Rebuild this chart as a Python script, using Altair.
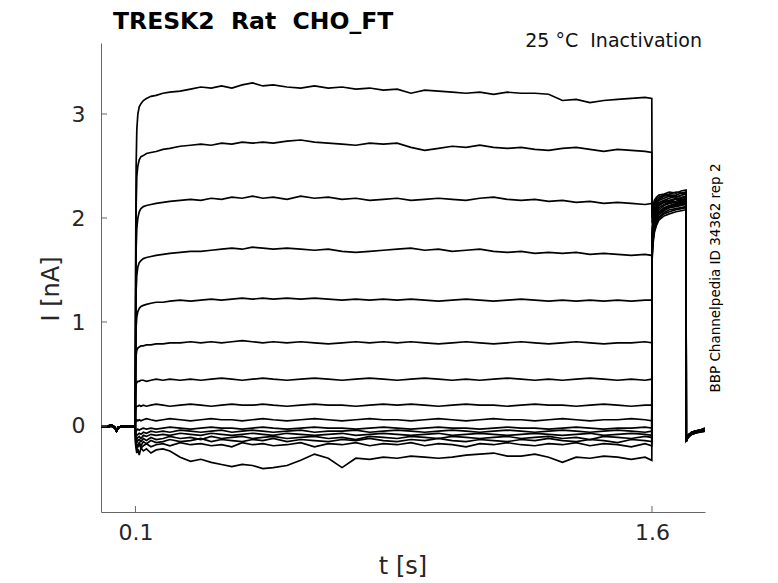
import altair as alt
import pandas as pd

# ---------------- data ----------------
T_BASE = [0.0, 0.01, 0.02, 0.03, 0.04, 0.045, 0.05, 0.06, 0.07, 0.08, 0.09, 0.0995]
BASE_A = [0.0, -0.01, 0.0, 0.01, -0.01, -0.05, -0.02, 0.0, -0.01, 0.0, -0.01, 0.0]
BASE_B = [-0.01, 0.0, -0.01, 0.0, -0.02, -0.04, -0.01, -0.01, 0.0, -0.01, 0.0, -0.01]

T_STEP = [0.1005, 0.102, 0.104, 0.107, 0.111, 0.116, 0.123, 0.132, 0.145, 0.16,
          0.18, 0.2, 0.23, 0.26, 0.29, 0.32, 0.35, 0.38, 0.41, 0.44,
          0.47, 0.5, 0.54, 0.58, 0.62, 0.66, 0.7, 0.74, 0.78, 0.82,
          0.86, 0.9, 0.94, 0.98, 1.02, 1.06, 1.1, 1.14, 1.18, 1.22,
          1.26, 1.3, 1.34, 1.38, 1.42, 1.46, 1.5, 1.54, 1.58, 1.5995]

STEP = [
    [1.5, 2.5, 2.85, 3.0, 3.07, 3.1, 3.13, 3.15, 3.17, 3.18,
     3.2, 3.21, 3.22, 3.24, 3.26, 3.25, 3.27, 3.25, 3.28, 3.30,
     3.27, 3.28, 3.26, 3.25, 3.27, 3.25, 3.26, 3.24, 3.25, 3.23,
     3.24, 3.20, 3.23, 3.22, 3.21, 3.20, 3.21, 3.19, 3.21, 3.20,
     3.20, 3.19, 3.13, 3.14, 3.11, 3.13, 3.14, 3.15, 3.16, 3.15],
    [1.2, 2.1, 2.4, 2.5, 2.56, 2.59, 2.60, 2.62, 2.63, 2.64,
     2.66, 2.67, 2.69, 2.70, 2.71, 2.70, 2.72, 2.71, 2.73, 2.72,
     2.73, 2.72, 2.74, 2.75, 2.73, 2.72, 2.71, 2.70, 2.72, 2.71,
     2.72, 2.68, 2.65, 2.67, 2.69, 2.68, 2.70, 2.68, 2.67, 2.68,
     2.66, 2.65, 2.67, 2.68, 2.66, 2.64, 2.66, 2.65, 2.64, 2.63],
    [1.0, 1.7, 1.9, 2.0, 2.06, 2.09, 2.11, 2.12, 2.13, 2.14,
     2.15, 2.16, 2.17, 2.18, 2.17, 2.19, 2.18, 2.20, 2.19, 2.21,
     2.19, 2.20, 2.18, 2.21, 2.19, 2.20, 2.18, 2.19, 2.17, 2.18,
     2.19, 2.17, 2.18, 2.19, 2.18, 2.17, 2.19, 2.20, 2.18, 2.17,
     2.18, 2.16, 2.17, 2.15, 2.16, 2.14, 2.15, 2.14, 2.13, 2.14],
    [0.8, 1.3, 1.45, 1.53, 1.57, 1.59, 1.61, 1.62, 1.63, 1.64,
     1.65, 1.66, 1.67, 1.68, 1.68, 1.69, 1.70, 1.71, 1.70, 1.72,
     1.71, 1.70, 1.71, 1.70, 1.69, 1.70, 1.68, 1.67, 1.68, 1.69,
     1.70, 1.71, 1.69, 1.70, 1.68, 1.69, 1.70, 1.68, 1.67, 1.68,
     1.66, 1.67, 1.66, 1.67, 1.65, 1.66, 1.65, 1.64, 1.65, 1.64],
    [0.6, 0.95, 1.05, 1.10, 1.13, 1.15, 1.16, 1.17, 1.18, 1.19,
     1.19, 1.20, 1.21, 1.20, 1.21, 1.22, 1.21, 1.22, 1.23, 1.22,
     1.23, 1.22, 1.23, 1.22, 1.23, 1.22, 1.21, 1.22, 1.21, 1.22,
     1.21, 1.22, 1.21, 1.20, 1.21, 1.22, 1.21, 1.20, 1.21, 1.22,
     1.21, 1.20, 1.21, 1.20, 1.21, 1.20, 1.21, 1.20, 1.21, 1.21],
    [0.5, 0.68, 0.73, 0.75, 0.76, 0.77, 0.77, 0.78, 0.78, 0.79,
     0.79, 0.80, 0.80, 0.81, 0.80, 0.81, 0.80, 0.81, 0.82, 0.81,
     0.80, 0.81, 0.80, 0.81, 0.80, 0.79, 0.80, 0.81, 0.80, 0.81,
     0.80, 0.81, 0.80, 0.79, 0.80, 0.81, 0.80, 0.79, 0.80, 0.81,
     0.80, 0.79, 0.80, 0.81, 0.80, 0.79, 0.80, 0.80, 0.81, 0.80],
    [0.30, 0.40, 0.42, 0.43, 0.43, 0.44, 0.44, 0.43, 0.44, 0.45,
     0.44, 0.45, 0.44, 0.45, 0.44, 0.45, 0.46, 0.45, 0.44, 0.45,
     0.46, 0.45, 0.44, 0.45, 0.46, 0.45, 0.44, 0.45, 0.46, 0.45,
     0.44, 0.45, 0.46, 0.45, 0.44, 0.45, 0.44, 0.45, 0.46, 0.45,
     0.44, 0.45, 0.44, 0.45, 0.46, 0.45, 0.44, 0.45, 0.44, 0.45],
    [0.15, 0.18, 0.19, 0.19, 0.20, 0.19, 0.20, 0.19, 0.20, 0.21,
     0.20, 0.19, 0.20, 0.21, 0.20, 0.19, 0.20, 0.21, 0.20, 0.20,
     0.21, 0.20, 0.19, 0.20, 0.21, 0.20, 0.20, 0.19, 0.20, 0.21,
     0.20, 0.21, 0.20, 0.19, 0.20, 0.21, 0.20, 0.20, 0.19, 0.20,
     0.21, 0.20, 0.20, 0.19, 0.20, 0.21, 0.20, 0.19, 0.20, 0.20],
    [0.04, 0.05, 0.06, 0.05, 0.06, 0.05, 0.06, 0.07, 0.06, 0.05,
     0.06, 0.07, 0.06, 0.05, 0.06, 0.07, 0.06, 0.06, 0.05, 0.06,
     0.07, 0.06, 0.05, 0.06, 0.07, 0.06, 0.05, 0.06, 0.07, 0.06,
     0.06, 0.05, 0.06, 0.07, 0.06, 0.05, 0.06, 0.07, 0.06, 0.06,
     0.05, 0.06, 0.07, 0.06, 0.05, 0.06, 0.06, 0.07, 0.06, 0.05],
    [-0.04, -0.05, -0.04, -0.03, -0.04, -0.03, -0.02, -0.03, -0.02, -0.03,
     -0.02, -0.01, -0.02, -0.03, -0.02, -0.01, -0.02, -0.02, -0.03, -0.02,
     -0.01, -0.02, -0.03, -0.02, -0.01, -0.02, -0.02, -0.03, -0.02, -0.01,
     -0.02, -0.03, -0.02, -0.01, -0.02, -0.02, -0.03, -0.02, -0.01, -0.02,
     -0.02, -0.03, -0.02, -0.01, -0.02, -0.03, -0.02, -0.02, -0.01, -0.02],
    [-0.08, -0.10, -0.09, -0.08, -0.07, -0.08, -0.06, -0.07, -0.05, -0.06,
     -0.05, -0.06, -0.04, -0.05, -0.06, -0.05, -0.04, -0.06, -0.05, -0.04,
     -0.05, -0.06, -0.05, -0.04, -0.06, -0.05, -0.05, -0.04, -0.06, -0.05,
     -0.04, -0.05, -0.06, -0.05, -0.04, -0.05, -0.06, -0.05, -0.04, -0.05,
     -0.06, -0.05, -0.04, -0.05, -0.06, -0.05, -0.04, -0.05, -0.06, -0.05],
    [-0.10, -0.12, -0.13, -0.11, -0.10, -0.12, -0.09, -0.10, -0.08, -0.09,
     -0.08, -0.09, -0.07, -0.08, -0.09, -0.07, -0.08, -0.09, -0.08, -0.07,
     -0.08, -0.09, -0.07, -0.08, -0.09, -0.08, -0.07, -0.09, -0.08, -0.07,
     -0.08, -0.09, -0.08, -0.07, -0.09, -0.08, -0.07, -0.08, -0.09, -0.08,
     -0.07, -0.08, -0.09, -0.08, -0.07, -0.09, -0.08, -0.07, -0.08, -0.09],
    [-0.12, -0.15, -0.16, -0.14, -0.13, -0.15, -0.12, -0.14, -0.11, -0.13,
     -0.12, -0.10, -0.12, -0.11, -0.13, -0.10, -0.12, -0.11, -0.10, -0.12,
     -0.11, -0.10, -0.12, -0.11, -0.10, -0.12, -0.11, -0.13, -0.10, -0.11,
     -0.12, -0.10, -0.11, -0.12, -0.10, -0.11, -0.12, -0.11, -0.10, -0.12,
     -0.11, -0.10, -0.12, -0.11, -0.13, -0.10, -0.11, -0.12, -0.10, -0.11],
    [-0.14, -0.17, -0.19, -0.18, -0.16, -0.19, -0.15, -0.17, -0.14, -0.16,
     -0.15, -0.13, -0.15, -0.14, -0.12, -0.15, -0.13, -0.14, -0.15, -0.13,
     -0.14, -0.12, -0.15, -0.13, -0.14, -0.15, -0.13, -0.14, -0.12, -0.14,
     -0.15, -0.13, -0.14, -0.12, -0.14, -0.15, -0.13, -0.14, -0.15, -0.13,
     -0.14, -0.12, -0.14, -0.15, -0.13, -0.14, -0.16, -0.13, -0.14, -0.15],
    [-0.16, -0.20, -0.22, -0.20, -0.18, -0.21, -0.19, -0.17, -0.20, -0.18,
     -0.17, -0.19, -0.16, -0.18, -0.17, -0.19, -0.18, -0.20, -0.16, -0.18,
     -0.17, -0.19, -0.18, -0.16, -0.20, -0.17, -0.18, -0.16, -0.19, -0.17,
     -0.18, -0.16, -0.19, -0.17, -0.18, -0.20, -0.17, -0.18, -0.16, -0.18,
     -0.19, -0.17, -0.18, -0.16, -0.19, -0.17, -0.18, -0.20, -0.17, -0.19],
    [-0.18, -0.22, -0.26, -0.22, -0.28, -0.21, -0.24, -0.22, -0.26, -0.23,
     -0.22, -0.24, -0.30, -0.34, -0.32, -0.35, -0.37, -0.39, -0.37, -0.38,
     -0.41, -0.40, -0.38, -0.33, -0.27, -0.31, -0.40, -0.31, -0.32, -0.30,
     -0.31, -0.29, -0.30, -0.31, -0.30, -0.28, -0.27, -0.26, -0.29, -0.29,
     -0.27, -0.30, -0.35, -0.30, -0.31, -0.29, -0.30, -0.32, -0.30, -0.33],
]

T_TAIL = [1.6005, 1.603, 1.607, 1.613, 1.62, 1.635, 1.65, 1.67, 1.685, 1.699]
TAIL = [
    [2.05, 2.12, 2.17, 2.20, 2.22, 2.23, 2.25, 2.24, 2.26, 2.27],
    [2.00, 2.08, 2.14, 2.18, 2.20, 2.22, 2.23, 2.25, 2.24, 2.25],
    [1.95, 2.05, 2.12, 2.16, 2.18, 2.21, 2.22, 2.22, 2.24, 2.24],
    [1.90, 2.02, 2.10, 2.14, 2.17, 2.19, 2.21, 2.20, 2.22, 2.23],
    [1.85, 1.98, 2.07, 2.12, 2.15, 2.17, 2.19, 2.21, 2.20, 2.21],
    [1.80, 1.95, 2.05, 2.10, 2.13, 2.16, 2.17, 2.19, 2.19, 2.20],
    [1.78, 1.93, 2.03, 2.08, 2.12, 2.15, 2.16, 2.18, 2.17, 2.19],
    [1.75, 1.90, 2.00, 2.06, 2.10, 2.13, 2.15, 2.16, 2.18, 2.18],
    [1.72, 1.88, 1.98, 2.04, 2.08, 2.12, 2.14, 2.15, 2.16, 2.17],
    [1.70, 1.85, 1.96, 2.02, 2.06, 2.10, 2.12, 2.14, 2.15, 2.16],
    [1.72, 1.86, 1.95, 2.01, 2.05, 2.09, 2.11, 2.13, 2.14, 2.15],
    [1.68, 1.83, 1.93, 1.99, 2.03, 2.07, 2.10, 2.11, 2.12, 2.13],
    [1.70, 1.84, 1.94, 2.00, 2.04, 2.08, 2.10, 2.12, 2.13, 2.14],
    [1.66, 1.80, 1.90, 1.97, 2.01, 2.05, 2.08, 2.09, 2.10, 2.11],
    [1.64, 1.78, 1.88, 1.95, 2.00, 2.04, 2.06, 2.08, 2.09, 2.10],
    [1.60, 1.75, 1.86, 1.93, 1.98, 2.02, 2.04, 2.06, 2.07, 2.08],
]

T_POST = [1.6995, 1.703, 1.708, 1.715, 1.725, 1.74, 1.754]
POST = [
    [-0.14, -0.11, -0.09, -0.07, -0.06, -0.05, -0.04],
    [-0.12, -0.10, -0.08, -0.07, -0.05, -0.04, -0.03],
    [-0.15, -0.12, -0.10, -0.08, -0.07, -0.06, -0.05],
    [-0.13, -0.10, -0.09, -0.06, -0.06, -0.04, -0.02],
    [-0.14, -0.12, -0.09, -0.08, -0.06, -0.05, -0.04],
    [-0.12, -0.09, -0.08, -0.06, -0.05, -0.04, -0.03],
    [-0.15, -0.11, -0.10, -0.08, -0.07, -0.05, -0.05],
    [-0.13, -0.11, -0.08, -0.07, -0.06, -0.04, -0.03],
    [-0.14, -0.10, -0.09, -0.07, -0.05, -0.05, -0.04],
    [-0.12, -0.10, -0.08, -0.06, -0.06, -0.04, -0.02],
    [-0.15, -0.12, -0.10, -0.08, -0.06, -0.06, -0.05],
    [-0.13, -0.10, -0.09, -0.07, -0.05, -0.04, -0.03],
    [-0.14, -0.11, -0.09, -0.08, -0.07, -0.05, -0.04],
    [-0.12, -0.09, -0.08, -0.06, -0.05, -0.04, -0.03],
    [-0.15, -0.12, -0.10, -0.07, -0.06, -0.05, -0.04],
    [-0.13, -0.11, -0.09, -0.07, -0.06, -0.04, -0.03],
]

TICK_X = [0.1, 1.6]
TICK_Y = [0, 1, 2, 3]
X_DOMAIN = [0.0, 1.754]
Y_DOMAIN = [-0.827, 3.683]

NB = "\u00a0"
TITLE = "TRESK2" + NB + NB + "Rat" + NB + NB + "CHO_FT"
SUBTITLE = "25" + NB + "°C" + NB + NB + "Inactivation"
SIDE = "BBP Channelpedia ID 34362 rep 2"
XLABEL = "t [s]"
YLABEL = "I [nA]"

for s in STEP:
    assert len(s) == len(T_STEP)
for s in TAIL:
    assert len(s) == len(T_TAIL)
for s in POST:
    assert len(s) == len(T_POST)

rows = []
for i in range(len(STEP)):
    base = BASE_A if i % 2 == 0 else BASE_B
    for t, v in zip(T_BASE, base):
        rows.append({"trace": i, "t": t, "I": v})
    for t, v in zip(T_STEP, STEP[i]):
        rows.append({"trace": i, "t": t, "I": v})
    for t, v in zip(T_TAIL, TAIL[i]):
        rows.append({"trace": i, "t": t, "I": v})
    for t, v in zip(T_POST, POST[i]):
        rows.append({"trace": i, "t": t, "I": v})
df = pd.DataFrame(rows)

W, H = 604, 469
FONT = "DejaVu Sans"

xscale = alt.Scale(domain=X_DOMAIN, nice=False, zero=False)
yscale = alt.Scale(domain=Y_DOMAIN, nice=False, zero=False)

lines = alt.Chart(df).mark_line(color="black", strokeWidth=1.7, clip=True).encode(
    x=alt.X("t:Q", scale=xscale,
            axis=alt.Axis(values=TICK_X, title=None, ticks=False, grid=False,
                          labelFontSize=22, labelPadding=10, labelColor="#262626",
                          labelFont=FONT, domainColor="#666666", domainWidth=1,
                          format=".1f", labelFlush=False)),
    y=alt.Y("I:Q", scale=yscale,
            axis=alt.Axis(values=TICK_Y, title=None, ticks=False, grid=False,
                          labelFontSize=22, labelPadding=16, labelColor="#262626",
                          labelFont=FONT, domainColor="#666666", domainWidth=1,
                          format="d", labelFlush=False)),
    detail="trace:N",
    order="t:Q",
)

xt = alt.Chart(pd.DataFrame({"t": TICK_X})).mark_rule(color="#666666", strokeWidth=1).encode(
    x=alt.X("t:Q", scale=xscale), y=alt.value(H), y2=alt.value(H - 6))
yt = alt.Chart(pd.DataFrame({"I": TICK_Y})).mark_rule(color="#666666", strokeWidth=1).encode(
    y=alt.Y("I:Q", scale=yscale), x=alt.value(0), x2=alt.value(6))


def txt(label, x, y, size, **kw):
    return alt.Chart(pd.DataFrame({"label": [label]})).mark_text(
        font=FONT, fontSize=size, **kw).encode(
        text="label:N", x=alt.value(x), y=alt.value(y))


title = txt(TITLE, 12, -21, 23.5, fontWeight="bold", align="left", baseline="middle", color="black")
sub = txt(SUBTITLE, 601, -2, 19, align="right", baseline="middle", color="#111111")
side = txt(SIDE, 615, 235, 13.5, align="center", baseline="middle", angle=270, color="black")
xl = txt(XLABEL, W / 2, 524, 24, align="center", baseline="middle", color="#262626")
yl = txt(YLABEL, -49, 246, 24, align="center", baseline="middle", angle=270, color="#262626")

chart = alt.layer(lines, xt, yt, title, sub, side, xl, yl).properties(
    width=W, height=H,
    autosize=alt.AutoSizeParams(type="none"),
    padding={"left": 93, "top": 35, "right": 60, "bottom": 67},
).configure_view(stroke=None)

chart.save("out.html", embed_options={"renderer": "svg", "actions": False})
